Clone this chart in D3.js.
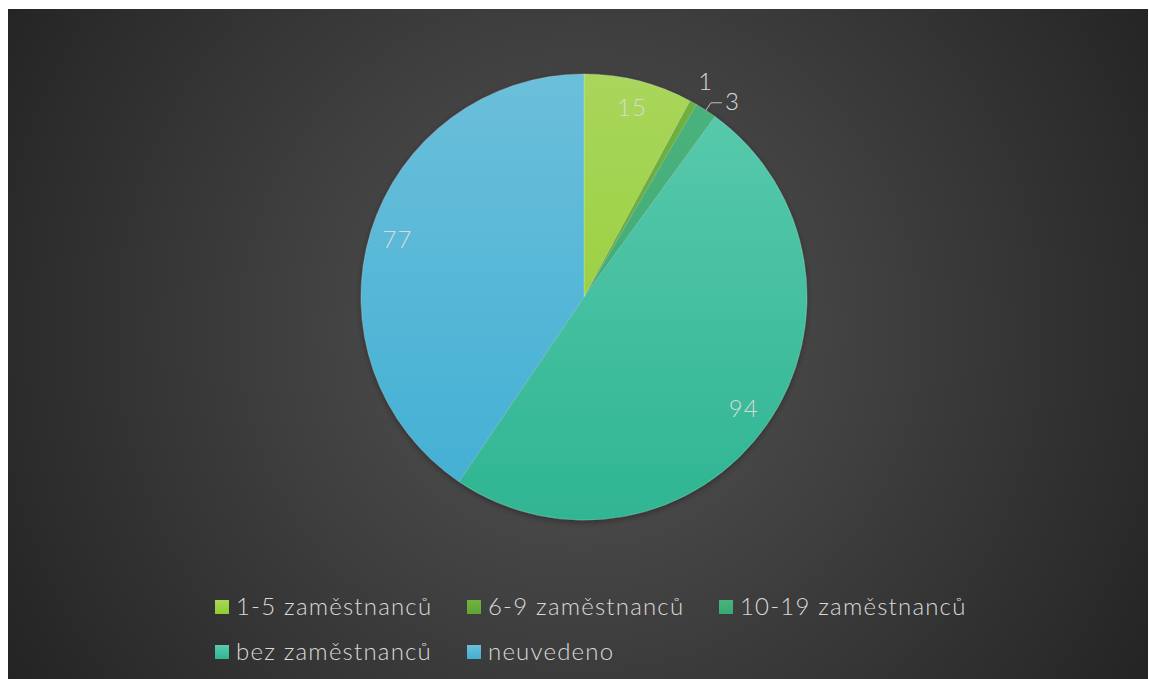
<!DOCTYPE html>
<html>
<head>
<meta charset="utf-8">
<script src="https://cdn.jsdelivr.net/npm/d3@7"></script>
<style>
  html, body { margin: 0; padding: 0; background: #fff; }
  svg { display: block; }
  text { font-family: "Lato", "Open Sans", sans-serif; font-weight: 300; }
</style>
</head>
<body>
<svg id="chart" width="1149" height="679"></svg>
<script>
'use strict';

// data
var categories = ["1-5 zaměstnanců", "6-9 zaměstnanců", "10-19 zaměstnanců", "bez zaměstnanců", "neuvedeno"];
var values = [15, 1, 3, 94, 77];
var colorsTop = ["#a9d65c", "#6fb23f", "#4cb27e", "#5bcbae", "#6bbfda"];
var colorsBottom = ["#8fcc2b", "#5fa533", "#35aa70", "#2fb592", "#40afd4"];
var outsideLabels = [false, true, true, false, false];

var svg = d3.select("#chart");
var width = 1149, height = 679;

var defs = svg.append("defs");

// dark radial background
var bg = defs.append("radialGradient")
    .attr("id", "bgGrad")
    .attr("gradientUnits", "userSpaceOnUse")
    .attr("cx", 580).attr("cy", 330).attr("r", 680);
bg.append("stop").attr("offset", "0%").attr("stop-color", "#555555");
bg.append("stop").attr("offset", "100%").attr("stop-color", "#232323");

svg.append("rect")
    .attr("x", 8).attr("y", 9)
    .attr("width", width - 9).attr("height", height - 9)
    .attr("fill", "url(#bgGrad)");

var cx = 584, cy = 297, radius = 223;

// one vertical gradient per slice, spanning the whole pie
categories.forEach(function (c, i) {
    var g = defs.append("linearGradient")
        .attr("id", "slice-" + i)
        .attr("gradientUnits", "userSpaceOnUse")
        .attr("x1", 0).attr("y1", -radius)
        .attr("x2", 0).attr("y2", radius);
    g.append("stop").attr("offset", "0%").attr("stop-color", colorsTop[i]);
    g.append("stop").attr("offset", "100%").attr("stop-color", colorsBottom[i]);
});

var shadow = defs.append("filter").attr("id", "shadow")
    .attr("x", "-10%").attr("y", "-10%").attr("width", "120%").attr("height", "120%");
shadow.append("feDropShadow")
    .attr("dx", 0).attr("dy", 2).attr("stdDeviation", 3)
    .attr("flood-color", "#000").attr("flood-opacity", 0.35);

var pie = d3.pie().sort(null).value(function (d) { return d; });
var arcs = pie(values);

var arc = d3.arc().innerRadius(0).outerRadius(radius);

var g = svg.append("g").attr("transform", "translate(" + cx + "," + cy + ")");

g.append("g")
    .attr("filter", "url(#shadow)")
    .selectAll("path")
    .data(arcs)
    .enter().append("path")
    .attr("d", arc)
    .attr("fill", function (d, i) { return "url(#slice-" + i + ")"; })
    .attr("stroke", "rgba(255,255,255,0.25)")
    .attr("stroke-width", 0.75);

function polar(a, r) {
    return [Math.sin(a) * r, -Math.cos(a) * r];
}

// data labels
arcs.forEach(function (d, i) {
    var mid = (d.startAngle + d.endAngle) / 2;
    if (!outsideLabels[i]) {
        var p = polar(mid, radius * 0.875);
        g.append("text")
            .attr("x", p[0]).attr("y", p[1])
            .attr("dy", "0.35em")
            .attr("text-anchor", "middle")
            .attr("fill", "#d9d9d9")
            .style("font-size", "24px")
            .style("letter-spacing", "1px")
            .text(values[i]);
    } else if (i === 1) {
        var q = polar(mid, radius + 24);
        g.append("text")
            .attr("x", q[0]).attr("y", q[1])
            .attr("dy", "0.35em")
            .attr("text-anchor", "middle")
            .attr("fill", "#d9d9d9")
            .style("font-size", "24px")
            .text(values[i]);
    } else {
        var a0 = polar(mid, radius), a1 = polar(mid, radius + 9);
        g.append("polyline")
            .attr("points", [a0, a1, [a1[0] + 11, a1[1]]].map(function (p) { return p.join(","); }).join(" "))
            .attr("fill", "none")
            .attr("stroke", "#bfbfbf")
            .attr("stroke-width", 1);
        g.append("text")
            .attr("x", a1[0] + 14).attr("y", a1[1])
            .attr("dy", "0.3em")
            .attr("text-anchor", "start")
            .attr("fill", "#d9d9d9")
            .style("font-size", "24px")
            .text(values[i]);
    }
});

categories.forEach(function (c, i) {
    var lg = defs.append("linearGradient")
        .attr("id", "legend-" + i)
        .attr("x1", 0).attr("y1", 0).attr("x2", 0).attr("y2", 1);
    lg.append("stop").attr("offset", "0%").attr("stop-color", colorsTop[i]);
    lg.append("stop").attr("offset", "100%").attr("stop-color", colorsBottom[i]);
});

// legend, 3 columns
var legend = svg.append("g").attr("class", "legend")
    .selectAll("g")
    .data(categories)
    .enter().append("g")
    .attr("transform", function (d, i) {
        return "translate(" + (215 + (i % 3) * 252) + "," + (607 + Math.floor(i / 3) * 45) + ")";
    });

legend.append("rect")
    .attr("x", 0).attr("y", -7)
    .attr("width", 14).attr("height", 14)
    .attr("fill", function (d, i) { return "url(#legend-" + i + ")"; });

legend.append("text")
    .attr("x", 21).attr("y", 0)
    .attr("dy", "0.35em")
    .attr("fill", "#d9d9d9")
    .style("font-size", "24px")
    .style("letter-spacing", "1.2px")
    .text(function (d) { return d; });
</script>
</body>
</html>
